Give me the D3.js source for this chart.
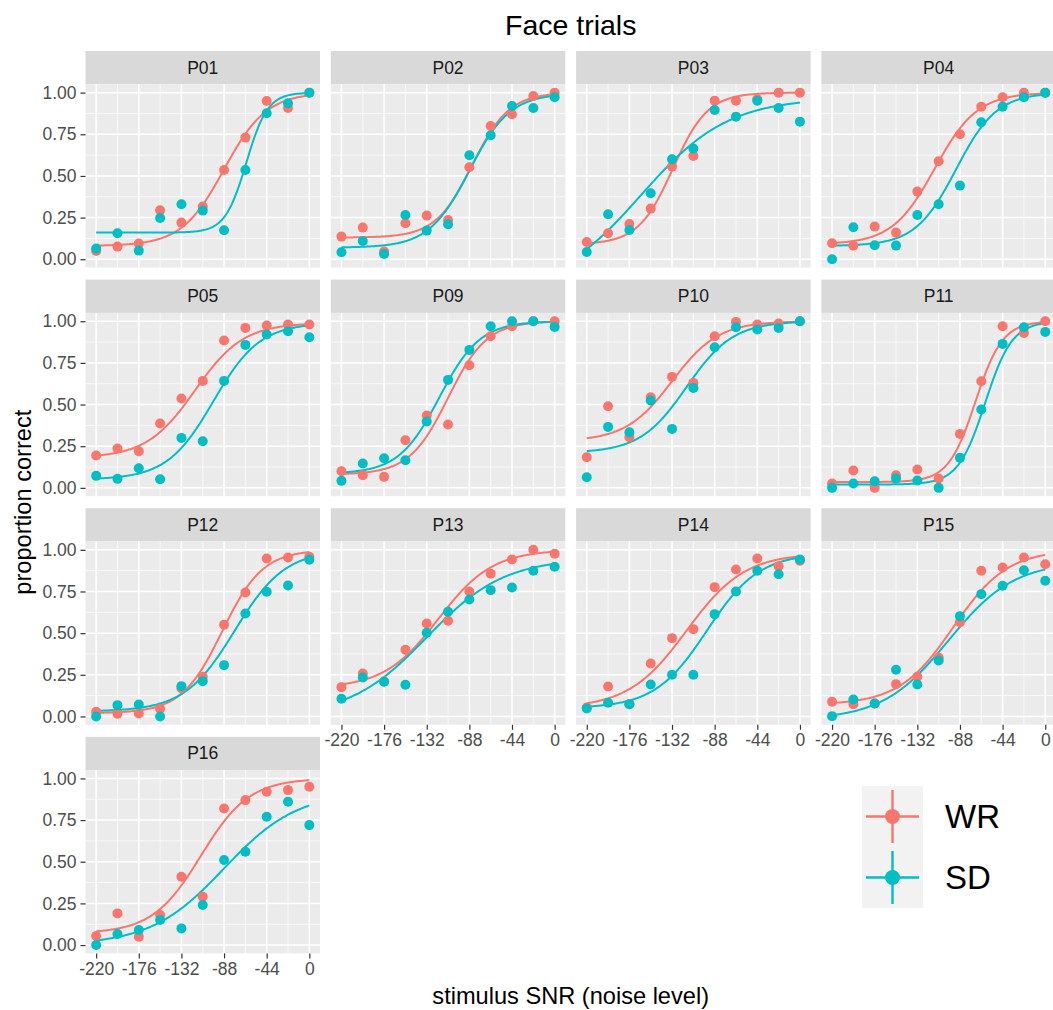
<!DOCTYPE html>
<html>
<head>
<meta charset="utf-8">
<script src="https://cdn.jsdelivr.net/npm/d3@7"></script>
<style>
  html, body { margin: 0; padding: 0; background: #ffffff; }
  svg { display: block; font-family: "Liberation Sans", Arial, Helvetica, sans-serif; }
</style>
</head>
<body>
<svg id="chart" width="1053" height="1010"></svg>
<script>
// Noise levels (stimulus SNR) at which each participant was tested
const snr = [-220, -198, -176, -154, -132, -110, -88, -66, -44, -22, 0];
const participants = ["P01", "P02", "P03", "P04", "P05", "P09", "P10", "P11", "P12", "P13", "P14", "P15", "P16"];
const conditions = ["WR", "SD"];

// Proportion correct per participant (rows follow `participants`, columns follow `snr`)
const wrCorrect = [
  [0.05, 0.076, 0.094, 0.294, 0.22, 0.316, 0.536, 0.73, 0.95, 0.908, 1.0],
  [0.136, 0.19, 0.046, 0.216, 0.262, 0.236, 0.552, 0.80, 0.87, 0.98, 1.0],
  [0.104, 0.156, 0.212, 0.304, 0.556, 0.62, 0.952, 0.952, 0.96, 1.0, 1.0],
  [0.096, 0.082, 0.196, 0.16, 0.406, 0.588, 0.75, 0.916, 0.972, 1.0, 1.0],
  [0.194, 0.236, 0.22, 0.386, 0.536, 0.642, 0.884, 0.96, 0.974, 0.98, 0.98],
  [0.10, 0.076, 0.066, 0.286, 0.434, 0.38, 0.736, 0.91, 0.97, 1.0, 1.0],
  [0.184, 0.49, 0.304, 0.544, 0.666, 0.63, 0.91, 0.996, 0.98, 0.986, 1.0],
  [0.026, 0.104, 0.0, 0.076, 0.11, 0.056, 0.324, 0.64, 0.97, 0.93, 1.0],
  [0.028, 0.016, 0.018, 0.046, 0.17, 0.238, 0.55, 0.744, 0.948, 0.954, 0.958],
  [0.176, 0.258, 0.21, 0.40, 0.558, 0.574, 0.75, 0.856, 0.942, 1.0, 0.976],
  [0.054, 0.18, 0.074, 0.318, 0.47, 0.524, 0.776, 0.882, 0.948, 0.902, 0.934],
  [0.088, 0.074, 0.078, 0.194, 0.238, 0.354, 0.566, 0.874, 0.894, 0.954, 0.914],
  [0.054, 0.19, 0.05, 0.18, 0.41, 0.29, 0.82, 0.87, 0.92, 0.93, 0.95]
];
const sdCorrect = [
  [0.064, 0.156, 0.052, 0.248, 0.33, 0.292, 0.174, 0.536, 0.876, 0.936, 1.0],
  [0.042, 0.11, 0.032, 0.266, 0.172, 0.21, 0.624, 0.744, 0.92, 0.908, 0.972],
  [0.044, 0.27, 0.176, 0.396, 0.60, 0.664, 0.896, 0.856, 0.952, 0.908, 0.826],
  [0.0, 0.192, 0.084, 0.082, 0.266, 0.33, 0.442, 0.822, 0.916, 0.972, 1.0],
  [0.072, 0.054, 0.118, 0.052, 0.30, 0.28, 0.642, 0.858, 0.92, 0.94, 0.904],
  [0.042, 0.146, 0.178, 0.166, 0.398, 0.648, 0.828, 0.97, 1.0, 1.0, 0.966],
  [0.064, 0.366, 0.334, 0.524, 0.354, 0.60, 0.844, 0.964, 0.95, 0.96, 1.0],
  [0.0, 0.026, 0.04, 0.056, 0.044, 0.0, 0.18, 0.47, 0.864, 0.964, 0.936],
  [0.0, 0.068, 0.072, 0.0, 0.182, 0.212, 0.308, 0.618, 0.748, 0.786, 0.94],
  [0.106, 0.234, 0.208, 0.19, 0.502, 0.628, 0.702, 0.758, 0.774, 0.874, 0.898],
  [0.048, 0.082, 0.074, 0.192, 0.25, 0.25, 0.614, 0.75, 0.874, 0.854, 0.942],
  [0.002, 0.102, 0.078, 0.28, 0.192, 0.336, 0.602, 0.734, 0.784, 0.878, 0.814],
  [0.0, 0.066, 0.09, 0.15, 0.1, 0.24, 0.51, 0.56, 0.77, 0.86, 0.72]
];

// Fitted psychometric functions: lower level, upper level, midpoint, scale
const wrFitLower = [0.08, 0.13, 0.09, 0.09, 0.18, 0.08, 0.28, 0.035, 0.02, 0.17, 0.05, 0.07, 0.07];
const wrFitUpper = [1.0, 1.0, 1.0, 1.0, 0.99, 1.0, 1.0, 1.0, 1.0, 1.0, 0.98, 1.0, 1.0];
const wrFitMid   = [-88, -85, -131, -114, -118, -110, -132, -72, -90, -120, -117, -95, -112];
const wrFitScale = [22, 19, 18, 22, 25, 20, 24, 14, 21, 28, 30, 28, 25];
const sdFitLower = [0.16, 0.07, -0.2, 0.08, 0.05, 0.085, 0.21, 0.02, 0.03, 0.0, 0.05, -0.02, 0.0];
const sdFitUpper = [1.0, 0.995, 0.97, 1.0, 0.99, 1.0, 1.0, 1.0, 1.0, 0.95, 0.98, 0.93, 0.92];
const sdFitMid   = [-65, -88, -164, -92, -99, -119, -117, -62, -77, -132, -96, -100, -88];
const sdFitScale = [11, 21, 45, 21, 24, 21, 24, 14, 26, 40, 27, 34, 38];

// Axis ticks
const xTicks = [-220, -176, -132, -88, -44, 0];
const xMinorTicks = [-198, -154, -110, -66, -22];
const yTicks = [0, 0.25, 0.5, 0.75, 1];
const yTickLabels = ["0.00", "0.25", "0.50", "0.75", "1.00"];
const yMinorTicks = [0.125, 0.375, 0.625, 0.875];

const colors = { WR: "#F8766D", SD: "#00BFC4" };

// Facet geometry
const nCols = 4;
const panelLeft0 = 85.5, colPitch = 245.3, panelW = 234.5;
const stripTop0 = 51, rowPitch = 228.6, stripH = 33.3, panelH = 183.3;
const tickFont = 17.5;

const svg = d3.select("#chart");
svg.append("rect").attr("width", 1053).attr("height", 1010).attr("fill", "#ffffff");

const xScale = d3.scaleLinear().domain([-231, 11]);
const yScale = d3.scaleLinear().domain([-0.05, 1.05]);

function psychometric(lo, hi, mid, scale) {
  return x => lo + (hi - lo) / (1 + Math.exp(-(x - mid) / scale));
}

const curveX = d3.range(-220, 0.001, 1);

participants.forEach((pid, i) => {
  const col = i % nCols, row = Math.floor(i / nCols);
  const x0 = panelLeft0 + col * colPitch;
  const sTop = stripTop0 + row * rowPitch;
  const y0 = sTop + stripH;
  const x = xScale.copy().range([x0, x0 + panelW]);
  const y = yScale.copy().range([y0 + panelH, y0]);
  const g = svg.append("g").attr("class", "facet");

  // strip
  g.append("rect").attr("x", x0).attr("y", sTop).attr("width", panelW).attr("height", stripH).attr("fill", "#D9D9D9");
  g.append("text").attr("x", x0 + panelW / 2).attr("y", sTop + stripH / 2)
    .attr("text-anchor", "middle").attr("dominant-baseline", "central")
    .attr("font-size", tickFont).attr("fill", "#1A1A1A").text(pid);

  // panel background + grid
  g.append("rect").attr("x", x0).attr("y", y0).attr("width", panelW).attr("height", panelH).attr("fill", "#EBEBEB");
  g.selectAll(".vminor").data(xMinorTicks).join("line")
    .attr("x1", d => x(d)).attr("x2", d => x(d)).attr("y1", y0).attr("y2", y0 + panelH)
    .attr("stroke", "#ffffff").attr("stroke-width", 0.7);
  g.selectAll(".hminor").data(yMinorTicks).join("line")
    .attr("y1", d => y(d)).attr("y2", d => y(d)).attr("x1", x0).attr("x2", x0 + panelW)
    .attr("stroke", "#ffffff").attr("stroke-width", 0.7);
  g.selectAll(".vmajor").data(xTicks).join("line")
    .attr("x1", d => x(d)).attr("x2", d => x(d)).attr("y1", y0).attr("y2", y0 + panelH)
    .attr("stroke", "#ffffff").attr("stroke-width", 1.5);
  g.selectAll(".hmajor").data(yTicks).join("line")
    .attr("y1", d => y(d)).attr("y2", d => y(d)).attr("x1", x0).attr("x2", x0 + panelW)
    .attr("stroke", "#ffffff").attr("stroke-width", 1.5);

  // fitted curves
  const fits = [
    { cond: "WR", f: psychometric(wrFitLower[i], wrFitUpper[i], wrFitMid[i], wrFitScale[i]) },
    { cond: "SD", f: psychometric(sdFitLower[i], sdFitUpper[i], sdFitMid[i], sdFitScale[i]) }
  ];
  const line = d3.line().x(d => x(d[0])).y(d => y(d[1]));
  fits.forEach(ft => {
    g.append("path").datum(curveX.map(v => [v, ft.f(v)]))
      .attr("d", line).attr("fill", "none").attr("stroke", colors[ft.cond]).attr("stroke-width", 2);
  });

  // observed proportions
  [["WR", wrCorrect[i]], ["SD", sdCorrect[i]]].forEach(([cond, vals]) => {
    g.selectAll(null).data(vals.map((v, k) => [snr[k], v])).join("circle")
      .attr("cx", d => x(d[0])).attr("cy", d => y(d[1])).attr("r", 5)
      .attr("fill", colors[cond]);
  });

  // y axis on the first column
  if (col === 0) {
    const ya = d3.axisLeft(y).tickValues(yTicks).tickFormat((d, k) => yTickLabels[k]).tickSize(5).tickPadding(4);
    const ag = g.append("g").attr("transform", `translate(${x0},0)`).call(ya);
    ag.select(".domain").remove();
    ag.selectAll(".tick line").attr("stroke", "#333333").attr("stroke-width", 1.2);
    ag.selectAll(".tick text").attr("font-size", tickFont).attr("fill", "#4D4D4D")
      .attr("font-family", "Liberation Sans, Arial, sans-serif");
  }
  // x axis on the bottom panel of each column
  const below = i + nCols;
  if (below >= participants.length) {
    const xa = d3.axisBottom(x).tickValues(xTicks).tickFormat(d3.format("d")).tickSize(5).tickPadding(4);
    const ag = g.append("g").attr("transform", `translate(0,${y0 + panelH})`).call(xa);
    ag.select(".domain").remove();
    ag.selectAll(".tick line").attr("stroke", "#333333").attr("stroke-width", 1.2);
    ag.selectAll(".tick text").attr("font-size", tickFont).attr("fill", "#4D4D4D")
      .attr("font-family", "Liberation Sans, Arial, sans-serif")
      .text(d => String(d).replace("\u2212", "-"));
  }
});

// titles
const plotCenterX = panelLeft0 + (3 * colPitch + panelW) / 2;
svg.append("text").attr("x", plotCenterX).attr("y", 35).attr("text-anchor", "middle")
  .attr("font-size", 28.5).attr("fill", "#000").text("Face trials");
svg.append("text").attr("x", plotCenterX).attr("y", 1004).attr("text-anchor", "middle")
  .attr("font-size", 23.6).attr("fill", "#000").text("stimulus SNR (noise level)");
svg.append("text").attr("transform", `translate(31,${(stripTop0 + 3 * rowPitch + stripH + panelH + stripTop0) / 2}) rotate(-90)`)
  .attr("text-anchor", "middle").attr("font-size", 23.6).attr("fill", "#000").text("proportion correct");

// legend
const legX = 862, legY = 786, keySize = 61;
const leg = svg.append("g").attr("class", "legend");
conditions.forEach((c, k) => {
  const ky = legY + k * keySize;
  leg.append("rect").attr("x", legX).attr("y", ky).attr("width", keySize).attr("height", keySize).attr("fill", "#F2F2F2");
  const cx = legX + keySize / 2, cy = ky + keySize / 2;
  leg.append("line").attr("x1", legX + 4).attr("x2", legX + keySize - 4).attr("y1", cy).attr("y2", cy)
    .attr("stroke", colors[c]).attr("stroke-width", 2.4);
  leg.append("line").attr("x1", cx).attr("x2", cx).attr("y1", ky + 4).attr("y2", ky + keySize - 4)
    .attr("stroke", colors[c]).attr("stroke-width", 2.4);
  leg.append("circle").attr("cx", cx).attr("cy", cy).attr("r", 7.5).attr("fill", colors[c]);
  leg.append("text").attr("x", legX + keySize + 22).attr("y", cy).attr("dominant-baseline", "central")
    .attr("font-size", 33).attr("fill", "#000").text(c);
});
</script>
</body>
</html>
